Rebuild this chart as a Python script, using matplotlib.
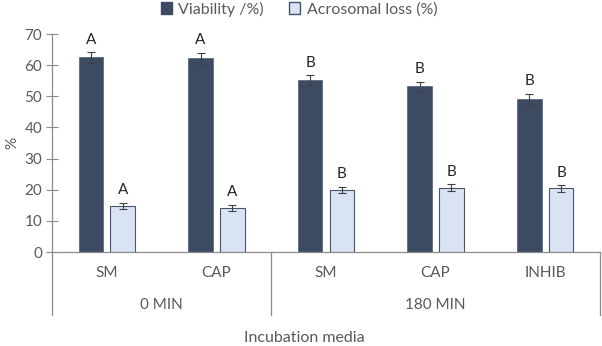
"""Viability and acrosomal loss by incubation media."""

import matplotlib.pyplot as plt
import numpy as np
from matplotlib.patches import Patch
from matplotlib.transforms import blended_transform_factory

plt.rcParams["font.family"] = ["Lato", "DejaVu Sans"]

CATEGORIES = ["SM", "CAP", "SM", "CAP", "INHIB"]
GROUPS = ["0 MIN", "180 MIN"]
GROUP_SIZES = [2, 3]
VIABILITY = [62.5, 62.2, 55.2, 53.2, 49.2]
VIABILITY_ERR = [1.7, 1.7, 1.6, 1.5, 1.6]
VIABILITY_LETTERS = ["A", "A", "B", "B", "B"]
ACROSOMAL = [14.8, 14.1, 20.0, 20.7, 20.4]
ACROSOMAL_ERR = [1.0, 1.0, 1.0, 1.0, 1.0]
ACROSOMAL_LETTERS = ["A", "A", "B", "B", "B"]

DARK = "#3c4a62"
LIGHT = "#dae3f3"
EDGE = "#44546a"
AXIS_GREY = "#8c8c8c"
TEXT_GREY = "#595959"
FS = 11

fig = plt.figure(figsize=(6.02, 3.46), dpi=100)
ax = fig.add_axes([52 / 602, (346 - 252) / 346, 548 / 602, 218 / 346])

x = np.arange(len(CATEGORIES))
width = 0.225
offset = 0.145
err_kw = dict(ecolor="#404040", elinewidth=0.8, capsize=3, capthick=0.8)
ax.bar(x - offset, VIABILITY, width, yerr=VIABILITY_ERR, color=DARK,
       edgecolor="#5a6a82", linewidth=0.6, error_kw=err_kw,
       label="Viability /%)")
ax.bar(x + offset, ACROSOMAL, width, yerr=ACROSOMAL_ERR, color=LIGHT,
       edgecolor=EDGE, linewidth=0.8, error_kw=err_kw,
       label="Acrosomal loss (%)")

for xs, vals, errs, letters in [
    (x - offset, VIABILITY, VIABILITY_ERR, VIABILITY_LETTERS),
    (x + offset, ACROSOMAL, ACROSOMAL_ERR, ACROSOMAL_LETTERS),
]:
    for xi, v, e, letter in zip(xs, vals, errs, letters):
        ax.annotate(letter, (xi, v + e), xytext=(0, 4),
                    textcoords="offset points", ha="center", va="bottom",
                    fontsize=FS, color="#262626")

ax.set_xlim(-0.5, len(CATEGORIES) - 0.5)
ax.set_ylim(0, 70)
ax.set_yticks(range(0, 71, 10))
ax.tick_params(axis="y", direction="inout", length=8, width=0.8,
               color=AXIS_GREY, labelcolor=TEXT_GREY, labelsize=FS, pad=3)
ax.set_xticks([])
for side in ("top", "right"):
    ax.spines[side].set_visible(False)
for side in ("left", "bottom"):
    ax.spines[side].set_color(AXIS_GREY)
    ax.spines[side].set_linewidth(0.9)
ax.set_ylabel("%", color=TEXT_GREY, fontsize=FS, labelpad=4)

# multi-level category axis
trans = blended_transform_factory(ax.transData, ax.transAxes)
px = 1 / 218
for xi, cat in zip(x, CATEGORIES):
    ax.text(xi, -21 * px, cat, transform=trans, ha="center", va="center",
            fontsize=FS, color=TEXT_GREY)
start = 0
bounds = [-0.5]
for name, size in zip(GROUPS, GROUP_SIZES):
    center = start + (size - 1) / 2
    ax.text(center, -53 * px, name, transform=trans, ha="center",
            va="center", fontsize=FS, color=TEXT_GREY)
    start += size
    bounds.append(start - 0.5)
for b in bounds:
    ax.plot([b, b], [0, -63 * px], transform=trans, color=AXIS_GREY,
            linewidth=0.9, clip_on=False)

fig.text(304 / 602, 1 - 338 / 346, "Incubation media", ha="center",
         va="center", fontsize=FS + 0.5, color=TEXT_GREY)

handles = [Patch(facecolor=DARK, edgecolor=DARK, label="Viability /%)"),
           Patch(facecolor=LIGHT, edgecolor=EDGE, label="Acrosomal loss (%)")]
fig.legend(handles=handles, loc="center", bbox_to_anchor=(299 / 602, 1 - 9 / 346),
           ncol=2, frameon=False, fontsize=FS + 0.5, handlelength=0.7,
           handleheight=0.7, handletextpad=0.4, columnspacing=1.6,
           labelcolor=TEXT_GREY)

fig.savefig("out.png", dpi=100)
